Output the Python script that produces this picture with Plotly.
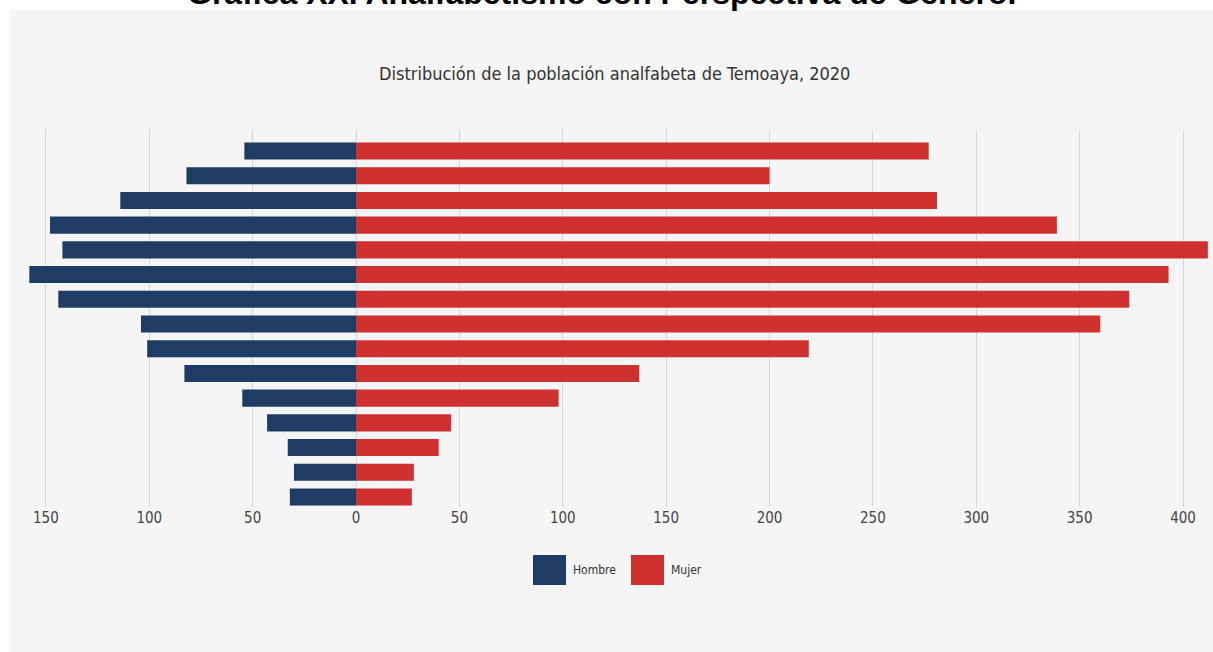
import plotly.graph_objects as go

# ---- data ----
age_groups = ["15-19", "20-24", "25-29", "30-34", "35-39", "40-44", "45-49", "50-54",
              "55-59", "60-64", "65-69", "70-74", "75-79", "80-84", "85+"]
hombre = [32, 30, 33, 43, 55, 83, 101, 104, 144, 158, 142, 148, 114, 82, 54]
mujer = [27, 28, 40, 46, 98, 137, 219, 360, 374, 393, 412, 339, 281, 200, 277]
series_names = ["Hombre", "Mujer"]
series_colors = ["#1e3c64", "#cf3131"]
tick_values = [-150, -100, -50, 0, 50, 100, 150, 200, 250, 300, 350, 400]
tick_labels = ["150", "100", "50", "0", "50", "100", "150", "200", "250", "300", "350", "400"]
title_text = "Gráfica XX. Analfabetismo con Perspectiva de Género."
subtitle_text = "Distribución de la población analfabeta de Temoaya, 2020"

W, H = 1213, 652
L, R, T, B = 20, 3, 130, 145
pw, ph = W - L - R, H - T - B

def px_x(x):
    return (x - L) / pw

def px_y(y):
    return (H - B - y) / ph

narrow = "Liberation Sans Narrow, DejaVu Sans Condensed, sans-serif"

fig = go.Figure()
fig.add_trace(go.Bar(y=age_groups, x=[-v for v in hombre], orientation="h",
                     name=series_names[0], marker=dict(color=series_colors[0], line=dict(width=0)),
                     showlegend=False))
fig.add_trace(go.Bar(y=age_groups, x=mujer, orientation="h",
                     name=series_names[1], marker=dict(color=series_colors[1], line=dict(width=0)),
                     showlegend=False))

shapes = [dict(type="rect", xref="paper", yref="paper",
               x0=px_x(10), x1=px_x(1230), y0=px_y(10), y1=px_y(700),
               fillcolor="#f5f5f5", line=dict(width=0), layer="below")]
annotations = [
    dict(text="<b>" + title_text + "</b>", xref="paper", yref="paper",
         x=px_x(601), y=px_y(-7), xanchor="center", yanchor="middle", showarrow=False,
         font=dict(family="Liberation Sans, Arial, sans-serif", size=32, color="#000000")),
    dict(text=subtitle_text, xref="paper", yref="paper",
         x=px_x(614), y=px_y(73), xanchor="center", yanchor="middle", showarrow=False,
         font=dict(family=narrow, size=18, color="#333333")),
]
# manual legend
leg_x = [533, 631]
for i, name in enumerate(series_names):
    shapes.append(dict(type="rect", xref="paper", yref="paper",
                       x0=px_x(leg_x[i]), x1=px_x(leg_x[i] + 33),
                       y0=px_y(555), y1=px_y(585),
                       fillcolor=series_colors[i], line=dict(width=0)))
    annotations.append(dict(text=name, xref="paper", yref="paper",
                            x=px_x(leg_x[i] + 38), y=px_y(570), xanchor="left", yanchor="middle",
                            showarrow=False, font=dict(family=narrow, size=12, color="#333333")))

fig.update_layout(
    width=W, height=H,
    margin=dict(l=L, r=R, t=T, b=B),
    paper_bgcolor="white", plot_bgcolor="rgba(0,0,0,0)",
    barmode="relative", bargap=0.31,
    shapes=shapes, annotations=annotations,
    xaxis=dict(range=[(L - 356) / 2.0675, (W - R - 356) / 2.0675],
               tickvals=tick_values, ticktext=tick_labels,
               showgrid=True, gridcolor="#d6d6d6", gridwidth=1,
               zeroline=True, zerolinecolor="#d6d6d6", zerolinewidth=1,
               showline=False, ticks="",
               tickfont=dict(family=narrow, size=15, color="#444444"),
               fixedrange=True),
    yaxis=dict(type="category", categoryorder="array", categoryarray=age_groups,
               range=[-0.405, 14.85], showticklabels=False, showgrid=False,
               zeroline=False, showline=False, ticks="", fixedrange=True),
    font=dict(family=narrow),
)

fig.write_html("out.html", config={"displayModeBar": False},
               post_script="document.body.style.margin='0';document.body.style.overflow='hidden';")
